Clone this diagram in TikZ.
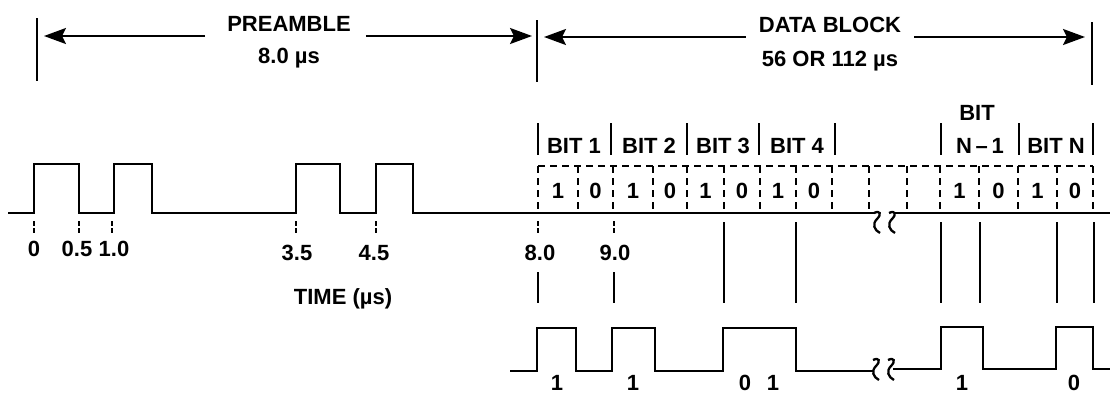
\documentclass[tikz,border=0pt]{standalone}
\usepackage{fontspec}
\setmainfont{Liberation Sans}
\usetikzlibrary{arrows.meta}
\def\brk#1#2{\draw[wave,line width=2.3pt] (#1-3,#2) .. controls (#1+3,#2-3) and (#1+5,#2+1) .. (#1,#2+6) .. controls (#1-5,#2+11) and (#1-3,#2+17) .. (#1+3,#2+20);}

\tikzset{
    lbl/.style={font=\fontsize{22}{26}\selectfont\bfseries, inner sep=0pt, anchor=base},
    wave/.style={line width=2.6pt, line join=miter},
    bar/.style={line width=2.2pt},
    cell/.style={line width=2.3pt, dash pattern=on 7pt off 5pt},
    tick/.style={line width=2.2pt, dash pattern=on 5pt off 2pt},
    dim/.style={line width=2.2pt, -{Stealth[length=22pt,width=16pt,inset=4pt]}},
}

\begin{document}
\begin{tikzpicture}[x=1pt,y=-1pt]
    \useasboundingbox (0,0) rectangle (1110,394);

    \draw[bar] (37,18) -- (37,81);
    \draw[bar] (537,20) -- (537,82);
    \draw[bar] (1092,22) -- (1092,85);
    \coordinate (preA) at (44,36);
    \coordinate (preB) at (532,36);
    \coordinate (datA) at (544,37);
    \coordinate (datB) at (1085,37);

    \node[lbl] (PRE) at (289,31) {PREAMBLE};
    \node[lbl] (PREt) at (289,63) {8.0 µs};
    \node[lbl] (DAT) at (830,32.5) {DATA BLOCK};
    \node[lbl] (DATt) at (830,66) {56 OR 112 µs};

    \draw[dim,shorten <=22pt] (PRE.west |- preA) to (preA);
    \draw[dim,shorten <=15pt] (PRE.east |- preB) to (preB);
    \draw[dim,shorten <=13pt] (DAT.west |- datA) to (datA);
    \draw[dim,shorten <=13pt] (DAT.east |- datB) to (datB);

    \draw[wave] (8,213) -| (34,164) -| (79,213) -| (114,164) -| (152,213) -| (296,164) -| (340,213) -| (376,164) -| (413,213) -- (875,213);
    \brk{877}{213}
    \brk{892}{213}
    \draw[wave] (894,213) -- (1110,213);

    \foreach \x in {34,79,112,296,376,538,614}
        \draw[tick] (\x,221) -- (\x,233);
    \foreach \t/\x [count=\i] in {0/34,0.5/77,1.0/114}
        \node[lbl] (t\i) at (\x,256) {\t};
    \foreach \t/\x [count=\i] in {3.5/297,4.5/374,8.0/540,9.0/615}
        \node[lbl] (u\i) at (\x,260) {\t};
    \node[lbl] (TIME) at (343,304) {TIME (µs)};

    \foreach \x in {538,611,687,759,835,941,1019,1093}
        \draw[bar] (\x,123) -- (\x,155);
    \foreach \t/\x [count=\i] in {BIT 1/574,BIT 2/649,BIT 3/723,BIT 4/797,N\,–\,1/980,BIT N/1056}
        \node[lbl] (bit\i) at (\x,153) {\t};
    \node[lbl] (BIT) at (977,120) {BIT};

    \draw[cell] (538,166) -- (1093,166);
    \foreach \x in {538,578,613,653,687,724,760,796,832,869,907,940,979,1018,1057,1093}
        \draw[cell] (\x,166) -- (\x,213);
    \foreach \d/\x [count=\i] in {1/558,0/595.5,1/633,0/670,1/705.5,0/742,1/778,0/814,1/959.5,0/998.5,1/1037.5,0/1075}
        \node[lbl] (dig\i) at (\x,198) {\d};

    \foreach \x in {724,796,941,980,1057,1094}
        \draw[bar] (\x,222) -- (\x,303);
    \foreach \x in {538,614}
        \draw[bar] (\x,272) -- (\x,303);

    \draw[wave] (510,371) -| (537,328) -| (576,371) -| (612,328) -| (655,371) -| (723,328) -| (796,371) -- (874,371);
    \brk{876}{360}
    \brk{891}{360}
    \draw[wave] (893,369) -| (941,327) -| (983,369) -| (1056,327) -| (1093,369) -- (1110,369);
    \foreach \d/\x [count=\i] in {1/557,1/633,0/745,1/773,1/962,0/1074}
        \node[lbl] (out\i) at (\x,390) {\d};
\end{tikzpicture}
\end{document}
